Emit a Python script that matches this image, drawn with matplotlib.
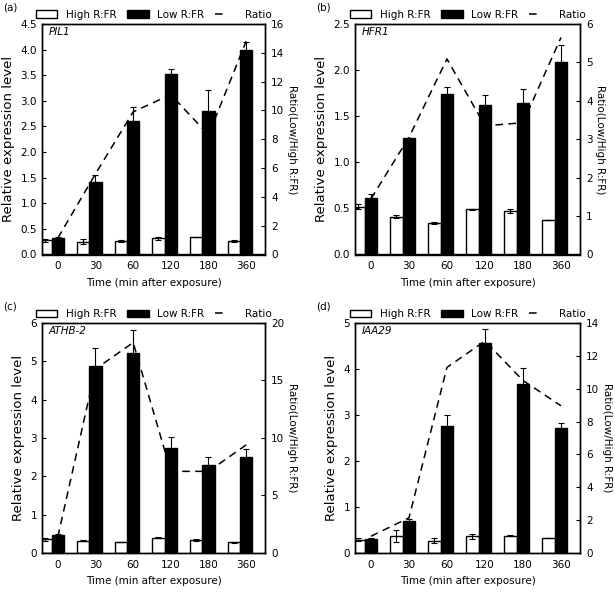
import matplotlib
matplotlib.use("Agg")
import matplotlib.pyplot as plt
import numpy as np
from matplotlib.patches import Patch
from matplotlib.lines import Line2D

times = ["0", "30", "60", "120", "180", "360"]

panel_labels = ["(a)", "(b)", "(c)", "(d)"]
genes = ["PIL1", "HFR1", "ATHB-2", "IAA29"]

# PIL1
pil1_high = [0.28, 0.25, 0.27, 0.32, 0.34, 0.27]
pil1_high_err = [0.03, 0.05, 0.02, 0.03, 0.0, 0.02]
pil1_low = [0.32, 1.42, 2.60, 3.52, 2.80, 4.00]
pil1_low_err = [0.03, 0.13, 0.27, 0.10, 0.41, 0.15]
pil1_ratio = [1.14, 5.6, 9.9, 11.1, 8.3, 14.8]

# HFR1
hfr1_high = [0.52, 0.41, 0.34, 0.49, 0.47, 0.37]
hfr1_high_err = [0.03, 0.015, 0.01, 0.005, 0.02, 0.0]
hfr1_low = [0.61, 1.26, 1.74, 1.62, 1.64, 2.09]
hfr1_low_err = [0.05, 0.0, 0.08, 0.11, 0.16, 0.18]
hfr1_ratio = [1.45, 3.05, 5.09, 3.35, 3.43, 5.65]

# ATHB-2
athb2_high = [0.36, 0.32, 0.29, 0.40, 0.34, 0.28]
athb2_high_err = [0.04, 0.01, 0.0, 0.02, 0.02, 0.02]
athb2_low = [0.48, 4.88, 5.23, 2.75, 2.30, 2.51]
athb2_low_err = [0.02, 0.46, 0.58, 0.28, 0.21, 0.21]
athb2_ratio = [1.4, 16.0, 18.3, 7.1, 7.1, 9.4]

# IAA29
iaa29_high = [0.29, 0.37, 0.27, 0.36, 0.38, 0.32]
iaa29_high_err = [0.03, 0.12, 0.05, 0.06, 0.01, 0.0]
iaa29_low = [0.31, 0.69, 2.77, 4.57, 3.67, 2.72]
iaa29_low_err = [0.02, 0.04, 0.22, 0.31, 0.36, 0.11]
iaa29_ratio = [1.02, 2.14, 11.3, 12.9, 10.5, 8.96]

left_ticks = [np.arange(0, 4.51, 0.5), np.arange(0, 2.51, 0.5),
              np.arange(0, 6.1, 1), np.arange(0, 5.1, 1)]
left_fmt = ["%.1f", "%.1f", "%d", "%d"]
right_ticks = [np.arange(0, 16.1, 2), np.arange(0, 6.1, 1),
               np.arange(0, 20.1, 5), np.arange(0, 14.1, 2)]

data = [
    (pil1_high, pil1_high_err, pil1_low, pil1_low_err, pil1_ratio),
    (hfr1_high, hfr1_high_err, hfr1_low, hfr1_low_err, hfr1_ratio),
    (athb2_high, athb2_high_err, athb2_low, athb2_low_err, athb2_ratio),
    (iaa29_high, iaa29_high_err, iaa29_low, iaa29_low_err, iaa29_ratio),
]

W, H = 615, 592
fig = plt.figure(figsize=(W / 100, H / 100), dpi=100)

# axes boxes in pixels: left, top, right, bottom
boxes = [(42, 24, 265, 254.5), (355, 24, 580, 254.5),
         (42, 323, 265, 553), (355, 323, 580, 553)]

fs = 7.5
w = 0.33
x = np.arange(len(times))

for k in range(4):
    l, t, r, b = boxes[k]
    ax = fig.add_axes([l / W, 1 - b / H, (r - l) / W, (b - t) / H])
    high, high_err, low, low_err, ratio = data[k]
    ax.bar(x - w, high, w, color="white", edgecolor="black", linewidth=1.0,
           yerr=high_err, error_kw=dict(ecolor="black", elinewidth=0.8, capsize=2.5, capthick=0.8))
    ax.bar(x, low, w, color="black", edgecolor="black", linewidth=1.0,
           yerr=low_err, error_kw=dict(ecolor="black", elinewidth=0.8, capsize=2.5, capthick=0.8))
    ax.set_xlim(-0.42, 5.5)
    ax.set_ylim(left_ticks[k][0], left_ticks[k][-1])
    ax.set_yticks(left_ticks[k])
    ax.set_yticklabels([left_fmt[k] % v for v in left_ticks[k]])
    ax.set_xticks(x)
    ax.set_xticklabels(times)
    ax.tick_params(axis="x", length=0, labelsize=fs, pad=5)
    ax.tick_params(axis="y", direction="in", length=3, labelsize=fs, pad=3.5)
    ax.set_xlabel("Time (min after exposure)", fontsize=fs, labelpad=4.5)
    ax.set_ylabel("Relative expression level", fontsize=9.5, labelpad=4)
    ax.text(0.031, 0.985, genes[k], transform=ax.transAxes, fontsize=fs,
            style="italic", ha="left", va="top")
    for s in ax.spines.values():
        s.set_linewidth(1.0)

    ax2 = ax.twinx()
    ax2.plot(x, ratio, color="black", linewidth=1.1, linestyle=(0, (5, 3.5)))
    ax2.set_ylim(right_ticks[k][0], right_ticks[k][-1])
    ax2.set_yticks(right_ticks[k])
    ax2.tick_params(axis="y", direction="in", length=3, labelsize=fs, pad=4.5)
    ax2.set_ylabel("Ratio(Low/High R:FR)", fontsize=fs, rotation=270, labelpad=9)
    ax2.set_xlim(-0.42, 5.5)
    for s in ax2.spines.values():
        s.set_linewidth(1.0)

    handles = [Patch(facecolor="white", edgecolor="black", linewidth=1.0),
               Patch(facecolor="black", edgecolor="black", linewidth=1.0),
               Line2D([0], [0], color="black", linewidth=1.1, linestyle=(0, (5, 100)))]
    ax.legend(handles, ["High R:FR", "Low R:FR", "Ratio"], ncol=3, loc="center",
              bbox_to_anchor=(0.5, 1.04), frameon=False, fontsize=fs,
              handlelength=2.1, handletextpad=0.8, columnspacing=1.0,
              borderaxespad=0, borderpad=0)

    fig.text((l - 39) / W, 1 - (t - 16.5) / H, panel_labels[k], fontsize=fs,
             ha="left", va="center")

fig.savefig("out.png", dpi=100)
